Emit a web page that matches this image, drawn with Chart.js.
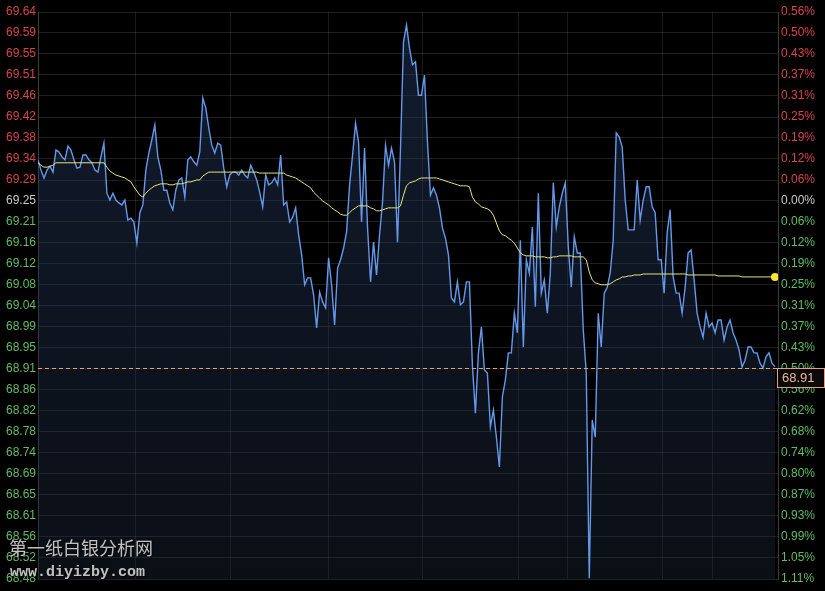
<!DOCTYPE html>
<html>
<head>
<meta charset="utf-8">
<script src="https://cdn.jsdelivr.net/npm/chart.js@4.4.1/dist/chart.umd.min.js"></script>
<style>
  html, body { margin: 0; padding: 0; background: #000; }
  canvas { display: block; }
</style>
</head>
<body>
<canvas id="intraday-chart" width="825" height="591"></canvas>
<script>
const chartEl = document.querySelector("#intraday-chart");

// previous close and the percent step between two price ticks
const basePrice = 69.25;
const pctStep = 0.000619;
const lastPrice = 68.91;

// tick labels, top to bottom
const priceLabels = ['69.64','69.59','69.55','69.51','69.46','69.42','69.38','69.34','69.29','69.25',
  '69.21','69.16','69.12','69.08','69.04','68.99','68.95','68.91','68.86','68.82','68.78','68.74',
  '68.69','68.65','68.61','68.56','68.52','68.48'];
const pctLabels = ['0.56%','0.50%','0.43%','0.37%','0.31%','0.25%','0.19%','0.12%','0.06%','0.00%',
  '0.06%','0.12%','0.19%','0.25%','0.31%','0.37%','0.43%','0.50%','0.56%','0.62%','0.68%','0.74%',
  '0.80%','0.87%','0.93%','0.99%','1.05%','1.11%'];

// price line (one value per step through the session)
const prices = [
  69.334, 69.313, 69.297, 69.313, 69.321, 69.309, 69.354, 69.350, 69.340, 69.334,
  69.362, 69.354, 69.334, 69.317, 69.319, 69.344, 69.344, 69.334, 69.328, 69.313,
  69.309, 69.340, 69.368, 69.266, 69.252, 69.266, 69.252, 69.246, 69.242, 69.252,
  69.211, 69.215, 69.207, 69.164, 69.226, 69.242, 69.313, 69.348, 69.375, 69.405,
  69.340, 69.313, 69.272, 69.272, 69.246, 69.232, 69.272, 69.293, 69.297, 69.258,
  69.334, 69.340, 69.330, 69.323, 69.350, 69.460, 69.440, 69.399, 69.364, 69.348,
  69.368, 69.364, 69.317, 69.279, 69.303, 69.309, 69.309, 69.303, 69.313, 69.303,
  69.297, 69.323, 69.309, 69.293, 69.268, 69.238, 69.303, 69.283, 69.287, 69.297,
  69.283, 69.344, 69.242, 69.248, 69.207, 69.217, 69.236, 69.181, 69.140, 69.079,
  69.093, 69.093, 69.058, 68.991, 69.064, 69.044, 69.032, 69.134, 69.079, 68.997,
  69.113, 69.130, 69.154, 69.187, 69.283, 69.344, 69.409, 69.370, 69.207, 69.358,
  69.195, 69.085, 69.166, 69.099, 69.181, 69.248, 69.364, 69.323, 69.358, 69.330,
  69.166, 69.358, 69.575, 69.609, 69.562, 69.528, 69.534, 69.466, 69.466, 69.507,
  69.370, 69.262, 69.277, 69.262, 69.236, 69.195, 69.174, 69.140, 69.052, 69.044,
  69.085, 69.038, 69.044, 69.085, 69.085, 68.915, 68.817, 68.940, 68.993, 68.905,
  68.899, 68.789, 68.823, 68.768, 68.707, 68.850, 68.885, 68.940, 68.940, 69.021,
  68.981, 69.170, 68.952, 69.130, 69.103, 69.197, 69.034, 69.266, 69.062, 69.089,
  69.021, 69.103, 69.287, 69.197, 69.238, 69.266, 69.287, 69.156, 69.074, 69.177,
  69.144, 69.144, 68.987, 68.899, 68.480, 68.803, 68.768, 69.021, 68.952, 69.062,
  69.074, 69.103, 69.170, 69.389, 69.381, 69.360, 69.252, 69.191, 69.191, 69.191,
  69.293, 69.211, 69.252, 69.279, 69.279, 69.238, 69.226, 69.130, 69.130, 69.062,
  69.185, 69.232, 69.095, 69.062, 69.062, 69.021, 69.074, 69.144, 69.150, 69.089,
  69.021, 68.993, 68.972, 69.021, 68.993, 69.001, 68.981, 69.007, 69.007, 68.966,
  68.993, 69.007, 68.981, 68.966, 68.946, 68.911, 68.925, 68.952, 68.952, 68.940,
  68.940, 68.919, 68.909, 68.932, 68.940, 68.919, 68.912
];

// average price line (yellow)
const avgPrices = [
  69.328, 69.323, 69.319, 69.319, 69.321, 69.323, 69.328, 69.328, 69.328, 69.328,
  69.328, 69.328, 69.328, 69.328, 69.328, 69.328, 69.328, 69.328, 69.328, 69.328,
  69.328, 69.328, 69.328, 69.319, 69.311, 69.307, 69.303, 69.301, 69.299, 69.297,
  69.293, 69.289, 69.279, 69.270, 69.262, 69.258, 69.266, 69.272, 69.277, 69.281,
  69.283, 69.285, 69.285, 69.285, 69.283, 69.283, 69.285, 69.285, 69.285, 69.287,
  69.289, 69.289, 69.291, 69.293, 69.293, 69.301, 69.305, 69.309, 69.309, 69.309,
  69.309, 69.309, 69.309, 69.309, 69.309, 69.309, 69.309, 69.309, 69.309, 69.309,
  69.309, 69.309, 69.309, 69.309, 69.307, 69.307, 69.307, 69.307, 69.307, 69.307,
  69.307, 69.307, 69.307, 69.303, 69.301, 69.299, 69.297, 69.293, 69.289, 69.285,
  69.281, 69.277, 69.268, 69.262, 69.256, 69.250, 69.246, 69.242, 69.236, 69.232,
  69.228, 69.223, 69.221, 69.221, 69.226, 69.232, 69.236, 69.240, 69.240, 69.240,
  69.240, 69.236, 69.234, 69.230, 69.230, 69.232, 69.234, 69.236, 69.236, 69.236,
  69.236, 69.240, 69.262, 69.281, 69.287, 69.289, 69.291, 69.295, 69.297, 69.297,
  69.297, 69.297, 69.297, 69.297, 69.295, 69.293, 69.291, 69.289, 69.287, 69.285,
  69.283, 69.281, 69.281, 69.281, 69.279, 69.258, 69.248, 69.244, 69.238, 69.236,
  69.234, 69.230, 69.221, 69.205, 69.189, 69.181, 69.179, 69.174, 69.170, 69.164,
  69.154, 69.144, 69.140, 69.138, 69.138, 69.138, 69.136, 69.136, 69.136, 69.136,
  69.134, 69.134, 69.136, 69.136, 69.138, 69.138, 69.138, 69.138, 69.138, 69.136,
  69.136, 69.136, 69.136, 69.130, 69.105, 69.089, 69.083, 69.081, 69.079, 69.079,
  69.079, 69.081, 69.085, 69.089, 69.091, 69.095, 69.095, 69.097, 69.097, 69.099,
  69.099, 69.099, 69.101, 69.101, 69.101, 69.101, 69.101, 69.101, 69.101, 69.101,
  69.101, 69.101, 69.101, 69.101, 69.101, 69.101, 69.101, 69.099, 69.099, 69.099,
  69.099, 69.099, 69.099, 69.099, 69.099, 69.099, 69.099, 69.097, 69.097, 69.097,
  69.097, 69.097, 69.097, 69.097, 69.097, 69.095, 69.095, 69.095, 69.095, 69.095,
  69.095, 69.095, 69.095, 69.095, 69.095, 69.095, 69.095
];

// where the time grid lines sit (in steps)
const timeGridSteps = [32.4, 64.1, 96.8, 128.5, 160.5, 176.9, 208.6, 225.3];

const RED = '#d9444c';
const GREEN = '#5fbe62';
const FLAT = '#c8c8c8';

// tick values, bottom to top
const tickValues = priceLabels.map((l, i) => basePrice * (1 + (9 - i) * pctStep)).reverse();
const yMin = tickValues[0];
const yMax = tickValues[tickValues.length - 1];
const nSteps = prices.length;

function tickColor(c) {
  const v = c.tick.value;
  if (v > basePrice + 0.001) return RED;
  if (v < basePrice - 0.001) return GREEN;
  return FLAT;
}

const overlayPlugin = {
  id: 'overlay',
  afterDatasetsDraw(chart) {
    const { ctx, chartArea } = chart;
    const y = Math.round(chart.scales.y.getPixelForValue(lastPrice)) + 0.5;
    ctx.save();
    ctx.strokeStyle = '#eaa25e';
    ctx.lineWidth = 1;
    ctx.setLineDash([4, 3]);
    ctx.beginPath();
    ctx.moveTo(chartArea.left, y);
    ctx.lineTo(chartArea.right, y);
    ctx.stroke();
    ctx.restore();
  },
  afterDraw(chart) {
    const { ctx, chartArea } = chart;
    const y = Math.round(chart.scales.y.getPixelForValue(lastPrice));
    ctx.save();
    // last price tag
    ctx.fillStyle = '#0a0a0a';
    ctx.fillRect(chartArea.right - 1, y, 47, 19);
    ctx.strokeStyle = '#e2a08c';
    ctx.lineWidth = 1;
    ctx.strokeRect(chartArea.right - 0.5, y + 0.5, 47, 19);
    ctx.fillStyle = '#f0b49e';
    ctx.font = '13px "Liberation Sans", Arial, sans-serif';
    ctx.textBaseline = 'middle';
    ctx.fillText(lastPrice.toFixed(2), chartArea.right + 4, y + 10);

    // watermark
    ctx.shadowColor = 'rgba(0,0,0,0.9)';
    ctx.shadowBlur = 2;
    ctx.shadowOffsetX = 1;
    ctx.shadowOffsetY = 1;
    ctx.fillStyle = 'rgba(225,225,225,0.85)';
    ctx.font = '18px "Noto Sans CJK SC", sans-serif';
    ctx.fillText('第一纸白银分析网', 9, 548);
    ctx.font = 'bold 15px "Liberation Mono", monospace';
    ctx.fillText('www.diyizby.com', 10, 572);
    ctx.restore();
  }
};

new Chart(chartEl, {
  type: 'line',
  data: {
    datasets: [{
      label: 'avg',
      data: avgPrices.map((v, i) => ({ x: i, y: v })),
      borderColor: '#e8e67a',
      borderWidth: 1,
      pointRadius: c => (c.dataIndex === nSteps - 1 ? 4 : 0),
      pointBackgroundColor: '#f8e634',
      pointBorderWidth: 0,
      fill: false,
      order: 1
    }, {
      label: 'price',
      data: prices.map((v, i) => ({ x: i, y: v })),
      borderColor: '#6498ea',
      borderWidth: 1.4,
      pointRadius: 0,
      fill: 'start',
      backgroundColor: c => {
        const area = c.chart.chartArea;
        if (!area) return 'rgba(30,45,75,0.5)';
        const g = c.chart.ctx.createLinearGradient(0, area.top, 0, area.bottom);
        g.addColorStop(0, 'rgba(40,62,105,0.45)');
        g.addColorStop(1, 'rgba(30,42,62,0.35)');
        return g;
      },
      order: 2
    }]
  },
  options: {
    responsive: false,
    animation: false,
    devicePixelRatio: 1,
    layout: { padding: { top: 12, bottom: 12, left: 0, right: 0 } },
    plugins: { legend: { display: false }, tooltip: { enabled: false } },
    scales: {
      x: {
        type: 'linear',
        min: 0,
        max: nSteps,
        afterBuildTicks: s => { s.ticks = timeGridSteps.map(v => ({ value: v })); },
        afterFit: s => { s.height = 0; },
        ticks: { display: false },
        grid: { color: 'rgba(255,255,255,0.1)', drawTicks: false },
        border: { display: false }
      },
      y: {
        position: 'left',
        min: yMin,
        max: yMax,
        afterBuildTicks: s => { s.ticks = tickValues.map(v => ({ value: v })); },
        afterFit: s => { s.width = 38; },
        ticks: {
          autoSkip: false,
          padding: 2,
          color: tickColor,
          font: { size: 12, family: '"Liberation Sans", Arial, sans-serif' },
          callback: (v, i) => priceLabels[priceLabels.length - 1 - i]
        },
        grid: { color: 'rgba(255,255,255,0.12)', drawTicks: false },
        border: { color: '#3c3c3c' }
      },
      yr: {
        position: 'right',
        min: yMin,
        max: yMax,
        afterBuildTicks: s => { s.ticks = tickValues.map(v => ({ value: v })); },
        afterFit: s => { s.width = 47; },
        ticks: {
          autoSkip: false,
          padding: 3,
          color: tickColor,
          font: { size: 12, family: '"Liberation Sans", Arial, sans-serif' },
          callback: (v, i) => pctLabels[pctLabels.length - 1 - i]
        },
        grid: { display: false, drawTicks: false },
        border: { color: '#3c3c3c' }
      }
    }
  },
  plugins: [overlayPlugin]
});
</script>
</body>
</html>
